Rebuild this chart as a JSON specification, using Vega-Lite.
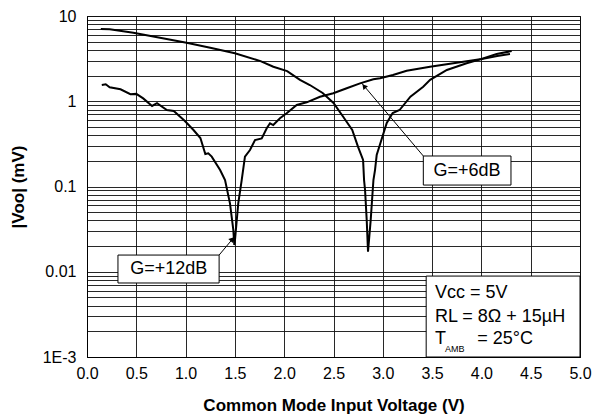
{
  "$schema": "https://vega.github.io/schema/vega-lite/v6.json",
  "width": 493,
  "height": 341,
  "autosize": {"type": "none"},
  "padding": {"left": 87, "top": 16, "right": 14, "bottom": 57},
  "background": "white",
  "config": {
    "font": "Liberation Sans",
    "view": {"stroke": "black", "strokeWidth": 1},
    "axis": {"labelFont": "Liberation Sans", "titleFont": "Liberation Sans"}
  },
  "datasets": {
    "curves": [
      {"curve": "A", "v": 0.14, "voo": 7.04},
      {"curve": "A", "v": 0.23, "voo": 6.98},
      {"curve": "A", "v": 0.47, "voo": 6.37},
      {"curve": "A", "v": 0.74, "voo": 5.56},
      {"curve": "A", "v": 1.01, "voo": 4.86},
      {"curve": "A", "v": 1.25, "voo": 4.25},
      {"curve": "A", "v": 1.5, "voo": 3.65},
      {"curve": "A", "v": 1.76, "voo": 2.96},
      {"curve": "A", "v": 1.89, "voo": 2.54},
      {"curve": "A", "v": 2.03, "voo": 2.26},
      {"curve": "A", "v": 2.16, "voo": 1.78},
      {"curve": "A", "v": 2.26, "voo": 1.55},
      {"curve": "A", "v": 2.39, "voo": 1.25},
      {"curve": "A", "v": 2.5, "voo": 0.953},
      {"curve": "A", "v": 2.6, "voo": 0.653},
      {"curve": "A", "v": 2.69, "voo": 0.46},
      {"curve": "A", "v": 2.75, "voo": 0.29},
      {"curve": "A", "v": 2.8, "voo": 0.205},
      {"curve": "A", "v": 2.81, "voo": 0.119},
      {"curve": "A", "v": 2.82, "voo": 0.091},
      {"curve": "A", "v": 2.837, "voo": 0.04},
      {"curve": "A", "v": 2.85, "voo": 0.0172},
      {"curve": "A", "v": 2.877, "voo": 0.04},
      {"curve": "A", "v": 2.898, "voo": 0.091},
      {"curve": "A", "v": 2.905, "voo": 0.119},
      {"curve": "A", "v": 2.921, "voo": 0.156},
      {"curve": "A", "v": 2.938, "voo": 0.234},
      {"curve": "A", "v": 3.04, "voo": 0.556},
      {"curve": "A", "v": 3.1, "voo": 0.728},
      {"curve": "A", "v": 3.17, "voo": 0.789},
      {"curve": "A", "v": 3.28, "voo": 1.13},
      {"curve": "A", "v": 3.41, "voo": 1.48},
      {"curve": "A", "v": 3.48, "voo": 1.78},
      {"curve": "A", "v": 3.65, "voo": 2.33},
      {"curve": "A", "v": 3.85, "voo": 2.79},
      {"curve": "A", "v": 3.99, "voo": 3.1},
      {"curve": "A", "v": 4.16, "voo": 3.4},
      {"curve": "A", "v": 4.29, "voo": 3.58},
      {"curve": "B", "v": 0.15, "voo": 1.55},
      {"curve": "B", "v": 0.19, "voo": 1.58},
      {"curve": "B", "v": 0.23, "voo": 1.46},
      {"curve": "B", "v": 0.34, "voo": 1.38},
      {"curve": "B", "v": 0.44, "voo": 1.21},
      {"curve": "B", "v": 0.5, "voo": 1.22},
      {"curve": "B", "v": 0.57, "voo": 1.08},
      {"curve": "B", "v": 0.66, "voo": 0.88},
      {"curve": "B", "v": 0.71, "voo": 0.95},
      {"curve": "B", "v": 0.81, "voo": 0.79},
      {"curve": "B", "v": 0.88, "voo": 0.77},
      {"curve": "B", "v": 0.99, "voo": 0.59},
      {"curve": "B", "v": 1.08, "voo": 0.46},
      {"curve": "B", "v": 1.15, "voo": 0.37},
      {"curve": "B", "v": 1.2, "voo": 0.24},
      {"curve": "B", "v": 1.23, "voo": 0.245},
      {"curve": "B", "v": 1.265, "voo": 0.224},
      {"curve": "B", "v": 1.35, "voo": 0.156},
      {"curve": "B", "v": 1.4, "voo": 0.119},
      {"curve": "B", "v": 1.45, "voo": 0.0635},
      {"curve": "B", "v": 1.484, "voo": 0.031},
      {"curve": "B", "v": 1.494, "voo": 0.0206},
      {"curve": "B", "v": 1.501, "voo": 0.0236},
      {"curve": "B", "v": 1.534, "voo": 0.0635},
      {"curve": "B", "v": 1.569, "voo": 0.119},
      {"curve": "B", "v": 1.602, "voo": 0.224},
      {"curve": "B", "v": 1.653, "voo": 0.268},
      {"curve": "B", "v": 1.704, "voo": 0.351},
      {"curve": "B", "v": 1.772, "voo": 0.367},
      {"curve": "B", "v": 1.823, "voo": 0.482},
      {"curve": "B", "v": 1.856, "voo": 0.551},
      {"curve": "B", "v": 1.889, "voo": 0.526},
      {"curve": "B", "v": 1.957, "voo": 0.631},
      {"curve": "B", "v": 2.025, "voo": 0.722},
      {"curve": "B", "v": 2.127, "voo": 0.904},
      {"curve": "B", "v": 2.228, "voo": 0.972},
      {"curve": "B", "v": 2.363, "voo": 1.13},
      {"curve": "B", "v": 2.498, "voo": 1.24},
      {"curve": "B", "v": 2.634, "voo": 1.42},
      {"curve": "B", "v": 2.769, "voo": 1.62},
      {"curve": "B", "v": 2.904, "voo": 1.81},
      {"curve": "B", "v": 2.972, "voo": 1.86},
      {"curve": "B", "v": 3.103, "voo": 2.03},
      {"curve": "B", "v": 3.242, "voo": 2.28},
      {"curve": "B", "v": 3.479, "voo": 2.54},
      {"curve": "B", "v": 3.783, "voo": 2.86},
      {"curve": "B", "v": 3.986, "voo": 3.1},
      {"curve": "B", "v": 4.155, "voo": 3.58},
      {"curve": "B", "v": 4.307, "voo": 3.88}
    ],
    "boxes": [
      {"name": "g12", "v": 0.314, "v2": 1.34, "voo": 0.00738, "voo2": 0.0157},
      {"name": "g6", "v": 3.411, "v2": 4.3, "voo": 0.104, "voo2": 0.228},
      {"name": "cond", "v": 3.44, "v2": 5.0, "voo": 0.001, "voo2": 0.0089}
    ],
    "arrows": [
      {"name": "g12", "v": 1.34, "voo": 0.0157, "v2": 1.501, "voo2": 0.0262},
      {"name": "g6", "v": 3.411, "voo": 0.228, "v2": 2.784, "voo2": 1.64}
    ],
    "heads": [
      {"name": "g12", "v": 1.473, "voo": 0.0242},
      {"name": "g6", "v": 2.81, "voo": 1.505}
    ],
    "labels": [
      {"text": "G=+12dB", "v": 0.83, "voo": 0.01076},
      {"text": "G=+6dB", "v": 3.854, "voo": 0.154}
    ],
    "cond": [
      {"text": "Vcc = 5V", "v": 3.529, "voo": 0.00488},
      {"text": "RL = 8Ω + 15µH", "v": 3.529, "voo": 0.002594},
      {"text": "T", "v": 3.529, "voo": 0.001419},
      {"text": "= 25°C", "v": 3.958, "voo": 0.001419}
    ],
    "sub": [
      {"text": "AMB", "v": 3.631, "voo": 0.001153}
    ]
  },
  "layer": [
    {
      "data": {"name": "curves"},
      "mark": {"type": "line", "color": "black", "strokeWidth": 2, "clip": true},
      "encoding": {
        "x": {
          "field": "v", "type": "quantitative",
          "scale": {"domain": [0, 5], "nice": false, "zero": false},
          "axis": {
            "title": "Common Mode Input Voltage (V)",
            "titleFontSize": 17, "titleFontWeight": "bold", "titleColor": "black",
            "titleBaseline": "alphabetic", "titleY": 53,
            "values": [0, 0.25, 0.5, 0.75, 1, 1.25, 1.5, 1.75, 2, 2.25, 2.5, 2.75, 3, 3.25, 3.5, 3.75, 4, 4.25, 4.5, 4.75, 5],
            "labelExpr": "(datum.value * 2) % 1 == 0 ? format(datum.value, '.1f') : ''",
            "labelFontSize": 16, "labelColor": "black", "labelPadding": 8,
            "labelFlush": false, "labelOverlap": false,
            "ticks": false, "domainColor": "black",
            "grid": true, "gridColor": "#111", "gridOpacity": 0.9, "gridWidth": 1
          }
        },
        "y": {
          "field": "voo", "type": "quantitative",
          "scale": {"type": "log", "domain": [0.001, 10], "nice": false},
          "axis": {
            "title": "|Voo| (mV)",
            "titleFontSize": 17, "titleFontWeight": "bold", "titleColor": "black",
            "titleX": -69, "titleY": 170.5, "titleBaseline": "middle", "titleAngle": -90,
            "values": [0.001, 0.002, 0.003, 0.004, 0.005, 0.006, 0.007, 0.008, 0.009, 0.01, 0.02, 0.03, 0.04, 0.05, 0.06, 0.07, 0.08, 0.09, 0.1, 0.2, 0.3, 0.4, 0.5, 0.6, 0.7, 0.8, 0.9, 1, 2, 3, 4, 5, 6, 7, 8, 9, 10],
            "labelExpr": "datum.value == 10 ? '10' : datum.value == 1 ? '1' : datum.value == 0.1 ? '0.1' : datum.value == 0.01 ? '0.01' : datum.value == 0.001 ? '1E-3' : ''",
            "labelFontSize": 16, "labelColor": "black", "labelPadding": 11,
            "labelFlush": false, "labelOverlap": false, "labelBaseline": "middle",
            "ticks": false, "domainColor": "black",
            "grid": true, "gridColor": "#111", "gridOpacity": 0.9, "gridWidth": 1
          }
        },
        "detail": {"field": "curve", "type": "nominal"}
      }
    },
    {
      "data": {"name": "arrows"},
      "mark": {"type": "rule", "color": "black", "strokeWidth": 1},
      "encoding": {
        "x": {"field": "v", "type": "quantitative"},
        "y": {"field": "voo", "type": "quantitative"},
        "x2": {"field": "v2"},
        "y2": {"field": "voo2"}
      }
    },
    {
      "data": {"name": "heads"},
      "transform": [{"filter": "datum.name == 'g12'"}],
      "mark": {"type": "point", "shape": "triangle-up", "filled": true, "color": "black", "size": 35, "angle": 42, "opacity": 1},
      "encoding": {
        "x": {"field": "v", "type": "quantitative"},
        "y": {"field": "voo", "type": "quantitative"}
      }
    },
    {
      "data": {"name": "heads"},
      "transform": [{"filter": "datum.name == 'g6'"}],
      "mark": {"type": "point", "shape": "triangle-up", "filled": true, "color": "black", "size": 35, "angle": 320, "opacity": 1},
      "encoding": {
        "x": {"field": "v", "type": "quantitative"},
        "y": {"field": "voo", "type": "quantitative"}
      }
    },
    {
      "data": {"name": "boxes"},
      "mark": {"type": "rect", "fill": "white", "stroke": "black", "strokeWidth": 1},
      "encoding": {
        "x": {"field": "v", "type": "quantitative"},
        "x2": {"field": "v2"},
        "y": {"field": "voo", "type": "quantitative"},
        "y2": {"field": "voo2"}
      }
    },
    {
      "data": {"name": "labels"},
      "mark": {"type": "text", "fontSize": 18, "color": "black", "align": "center", "baseline": "middle"},
      "encoding": {
        "x": {"field": "v", "type": "quantitative"},
        "y": {"field": "voo", "type": "quantitative"},
        "text": {"field": "text"}
      }
    },
    {
      "data": {"name": "cond"},
      "mark": {"type": "text", "fontSize": 18, "color": "black", "align": "left", "baseline": "alphabetic"},
      "encoding": {
        "x": {"field": "v", "type": "quantitative"},
        "y": {"field": "voo", "type": "quantitative"},
        "text": {"field": "text"}
      }
    },
    {
      "data": {"name": "sub"},
      "mark": {"type": "text", "fontSize": 9, "color": "black", "align": "left", "baseline": "alphabetic"},
      "encoding": {
        "x": {"field": "v", "type": "quantitative"},
        "y": {"field": "voo", "type": "quantitative"},
        "text": {"field": "text"}
      }
    }
  ]
}
